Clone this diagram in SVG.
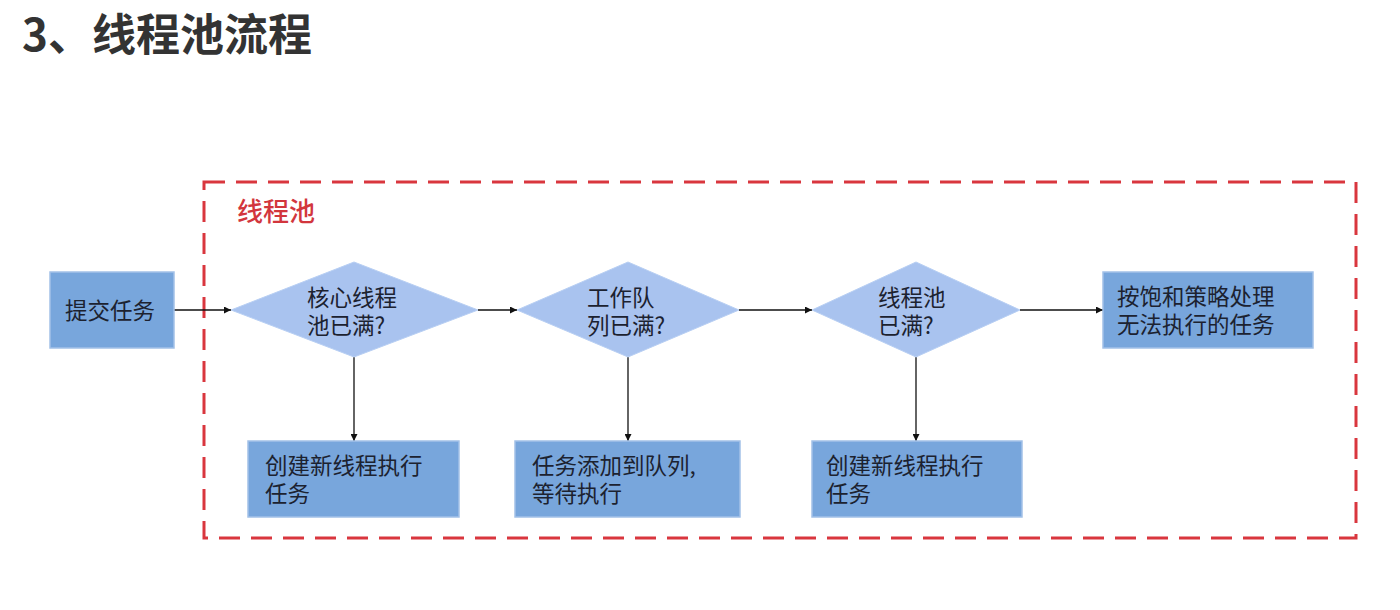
<svg xmlns="http://www.w3.org/2000/svg" width="1400" height="610" viewBox="0 0 1400 610">
<defs>
<marker id="ah" viewBox="0 0 10 10" refX="10" refY="5" markerWidth="9" markerHeight="7" markerUnits="userSpaceOnUse" orient="auto">
<path d="M0,0 L10,5 L0,10 z" fill="#111"/>
</marker>
<style>
.t{font-family:"Noto Sans CJK SC","Noto Sans",sans-serif;font-size:22.5px;fill:#1c2230}
.box{fill:#78a6dc;stroke:#a3c1e8;stroke-width:1.5}
.dia{fill:#a9c3ef;stroke:#b8cff3;stroke-width:1}
.c{stroke:#111;stroke-width:1.3;fill:none;marker-end:url(#ah)}
</style>
</defs>
<rect width="1400" height="610" fill="#fff"/>
<text x="22" y="51" style="font-family:'Noto Sans CJK SC','Noto Sans',sans-serif;font-size:44px;font-weight:bold;fill:#333">3、线程池流程</text>

<g id="pool">
<rect x="204" y="182" width="1152" height="356" fill="none" stroke="#d9363e" stroke-width="3" stroke-dasharray="21,11"/>
<text x="237" y="221" style="font-family:'Noto Sans CJK SC','Noto Sans',sans-serif;font-size:26px;font-weight:500;fill:#d2363d">线程池</text>
</g>

<g id="connectors">
<line class="c" x1="174" y1="310" x2="231" y2="310"/>
<line class="c" x1="478" y1="310" x2="517" y2="310"/>
<line class="c" x1="739" y1="310" x2="812" y2="310"/>
<line class="c" x1="1020" y1="310" x2="1103" y2="310"/>
<line class="c" x1="354" y1="357" x2="354" y2="441"/>
<line class="c" x1="628" y1="357" x2="628" y2="441"/>
<line class="c" x1="916" y1="357" x2="916" y2="441"/>
</g>

<g id="submit">
<rect class="box" x="50" y="272" width="124" height="76"/>
<text class="t" x="65" y="319">提交任务</text>
</g>

<g id="core-full">
<polygon class="dia" points="231,310 354,262 478,310 354,357"/>
<text class="t" x="307" y="306">核心线程<tspan x="307" dy="28">池已满?</tspan></text>
</g>

<g id="queue-full">
<polygon class="dia" points="517,310 628,262 739,310 628,357"/>
<text class="t" x="587" y="306">工作队<tspan x="587" dy="28">列已满?</tspan></text>
</g>

<g id="pool-full">
<polygon class="dia" points="812,310 916,262 1020,310 916,357"/>
<text class="t" x="878" y="306">线程池<tspan x="878" dy="28">已满?</tspan></text>
</g>

<g id="reject">
<rect class="box" x="1103" y="272" width="210" height="76"/>
<text class="t" x="1117" y="305">按饱和策略处理<tspan x="1117" dy="28">无法执行的任务</tspan></text>
</g>

<g id="new-core">
<rect class="box" x="248" y="441" width="211" height="76"/>
<text class="t" x="265" y="474">创建新线程执行<tspan x="265" dy="28">任务</tspan></text>
</g>

<g id="enqueue">
<rect class="box" x="515" y="441" width="225" height="76"/>
<text class="t" x="532" y="474">任务添加到队列,<tspan x="532" dy="28">等待执行</tspan></text>
</g>

<g id="new-nonCore">
<rect class="box" x="812" y="441" width="210" height="76"/>
<text class="t" x="826" y="474">创建新线程执行<tspan x="826" dy="28">任务</tspan></text>
</g>
</svg>
